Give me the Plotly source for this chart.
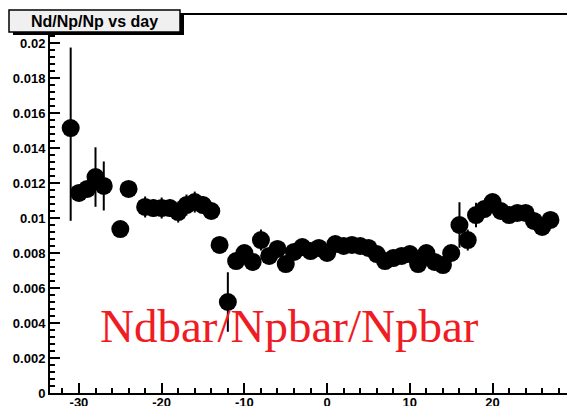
import plotly.graph_objects as go

days = [-31, -30, -29, -28, -27, -25, -24, -22, -21, -20, -19, -18, -17, -16, -15, -14,
        -13, -12, -11, -10, -9, -8, -7, -6, -5, -4, -3, -2, -1, 0, 1, 2, 3, 4, 5, 6, 7,
        8, 9, 10, 11, 12, 13, 14, 15, 16, 17, 18, 19, 20, 21, 22, 23, 24, 25, 26, 27]
ratio = [0.01514, 0.01143, 0.01166, 0.01234, 0.01183, 0.00937, 0.01166, 0.01063, 0.01057,
         0.01057, 0.01057, 0.01034, 0.01074, 0.01091, 0.01074, 0.01040,
         0.00846, 0.00520, 0.00754, 0.00800, 0.00749, 0.00874, 0.00783, 0.00823, 0.00737,
         0.00806, 0.00834, 0.00811, 0.00829, 0.00800, 0.00851, 0.00840, 0.00846, 0.00840,
         0.00829, 0.00794, 0.00754, 0.00771, 0.00783, 0.00794, 0.00737, 0.00800, 0.00749,
         0.00731, 0.00800, 0.00960, 0.00874, 0.01017, 0.01051, 0.01091, 0.01040, 0.01017,
         0.01029, 0.01029, 0.00983, 0.00949, 0.00989]
err_up = [0.0046, 0.0003, 0.0003, 0.0017, 0.0014, 0.0003, 0.0003, 0.0006, 0.0005, 0.0006,
          0.0005, 0.0006, 0.0006, 0.0006, 0.0005, 0.0004,
          0.0004, 0.0017, 0.0004, 0.0004, 0.0004, 0.0006, 0.0004, 0.0004, 0.0004,
          0.0004, 0.0004, 0.0004, 0.0004, 0.0004, 0.0004, 0.0004, 0.0004, 0.0004,
          0.0004, 0.0004, 0.0004, 0.0004, 0.0004, 0.0004, 0.0004, 0.0004, 0.0004,
          0.0004, 0.0004, 0.0013, 0.0006, 0.0007, 0.0004, 0.0004, 0.0004, 0.0004,
          0.0004, 0.0004, 0.0004, 0.0004, 0.0004]
err_down = [0.0053, 0.0003, 0.0003, 0.0017, 0.0014, 0.0003, 0.0003, 0.0006, 0.0005, 0.0006,
            0.0005, 0.0006, 0.0006, 0.0006, 0.0005, 0.0004,
            0.0004, 0.0017, 0.0004, 0.0004, 0.0004, 0.0006, 0.0004, 0.0004, 0.0004,
            0.0004, 0.0004, 0.0004, 0.0004, 0.0004, 0.0004, 0.0004, 0.0004, 0.0004,
            0.0004, 0.0004, 0.0004, 0.0004, 0.0004, 0.0004, 0.0004, 0.0004, 0.0004,
            0.0004, 0.0004, 0.0013, 0.0006, 0.0007, 0.0004, 0.0004, 0.0004, 0.0004,
            0.0004, 0.0004, 0.0004, 0.0004, 0.0004]

title_text = "Nd/Np/Np vs day"
label_text = "Ndbar/Npbar/Npbar"
y_ticks = [0, 0.002, 0.004, 0.006, 0.008, 0.01, 0.012, 0.014, 0.016, 0.018, 0.02]
y_ticklabels = ["0", "0.002", "0.004", "0.006", "0.008", "0.01", "0.012", "0.014",
                "0.016", "0.018", "0.02"]
x_ticks = [-30, -20, -10, 0, 10, 20]
x_ticklabels = ["-30", "-20", "-10", "0", "10", "20"]

fig = go.Figure()
fig.add_trace(go.Scatter(
    x=days, y=ratio, mode="markers",
    marker=dict(color="black", size=18, symbol="circle"),
    error_y=dict(type="data", symmetric=False, array=err_up, arrayminus=err_down,
                 color="black", thickness=2, width=0),
    showlegend=False, cliponaxis=True,
))

fig.update_layout(
    width=567, height=406,
    margin=dict(l=50, r=0, t=15, b=13, autoexpand=False),
    paper_bgcolor="white", plot_bgcolor="white",
    xaxis=dict(range=[-33.5, 29.0], tickvals=x_ticks,
               ticktext=["<b>" + t + "</b>" for t in x_ticklabels],
               ticks="inside", ticklen=10, automargin=False, ticklabelstandoff=-4,
               tickwidth=2, tickcolor="black", showgrid=False, zeroline=False,
               showline=True, linecolor="black", linewidth=2, mirror=True,
               tickfont=dict(family="Liberation Sans", size=13, color="black"),
               minor=dict(dtick=2, ticks="inside", ticklen=5, tickwidth=2,
                          tickcolor="black", showgrid=False)),
    yaxis=dict(range=[0, 0.0216], tickvals=y_ticks,
               ticktext=["<b>" + t + "</b>" for t in y_ticklabels],
               ticks="inside", ticklen=10, tickwidth=2, tickcolor="black", automargin=False,
               showgrid=False, zeroline=False, showline=True, linecolor="black",
               linewidth=2, mirror=False,
               tickfont=dict(family="Liberation Sans", size=13, color="black"),
               minor=dict(dtick=0.0004, ticks="inside", ticklen=5, tickwidth=2,
                          tickcolor="black", showgrid=False)),
)

# title box shadow and box
fig.add_shape(type="rect", xref="paper", yref="paper",
              x0=(13 - 50) / 517, x1=(184 - 50) / 517,
              y0=(393 - 35) / 378, y1=(393 - 14) / 378,
              fillcolor="black", line=dict(width=0), layer="above")
fig.add_shape(type="rect", xref="paper", yref="paper",
              x0=(9 - 50) / 517, x1=(180 - 50) / 517,
              y0=(393 - 32) / 378, y1=(393 - 10) / 378,
              fillcolor="#f0f0f0", line=dict(color="black", width=1.5), layer="above")
fig.add_annotation(xref="paper", yref="paper", x=(94.5 - 50) / 517, y=(393 - 21) / 378,
                   text="<b>" + title_text + "</b>", showarrow=False,
                   font=dict(family="Liberation Sans", size=16, color="black"),
                   xanchor="center", yanchor="middle")

fig.add_annotation(xref="paper", yref="paper", x=(289 - 50) / 517, y=(393 - 326) / 378,
                   text=label_text, showarrow=False,
                   font=dict(family="Liberation Serif", size=47, color="#f01c24"),
                   xanchor="center", yanchor="middle")

fig.write_html("out.html")
